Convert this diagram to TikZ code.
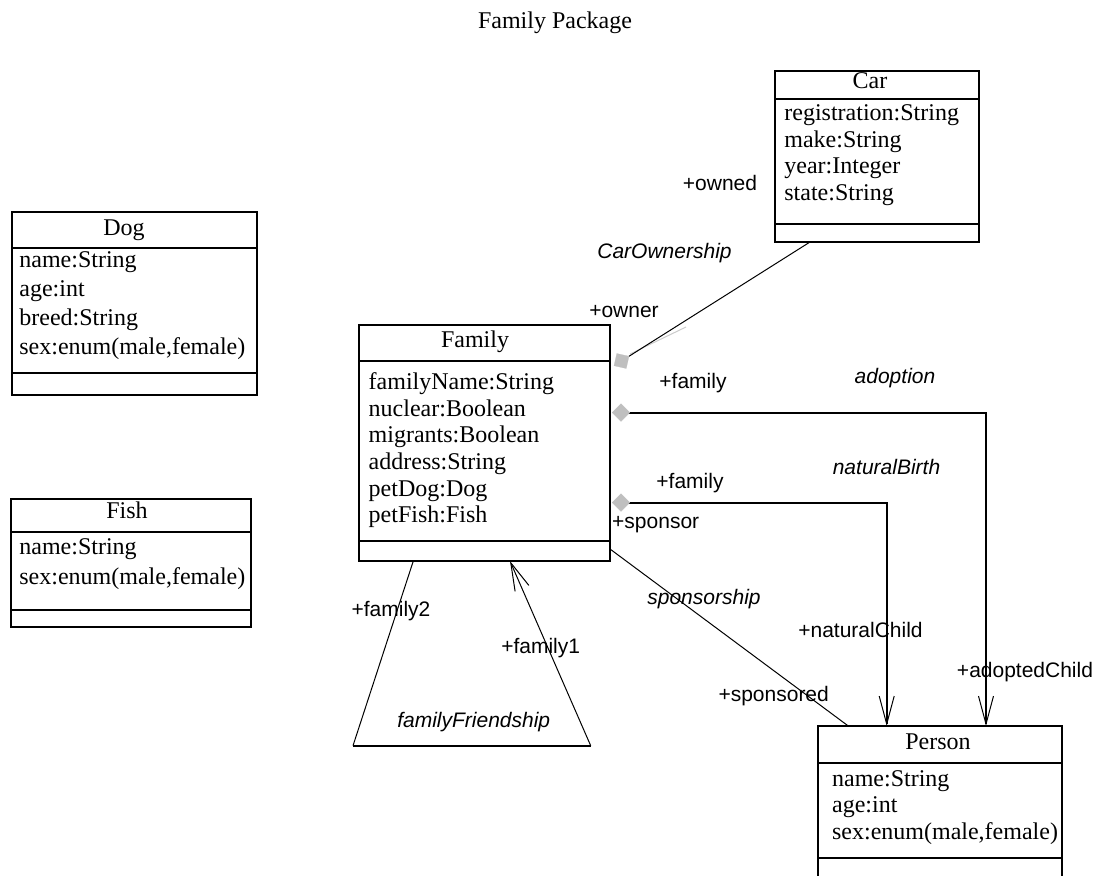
\documentclass[tikz,border=0pt]{standalone}
\usepackage{fontspec}
\setmainfont{Liberation Serif}
\setsansfont{Liberation Sans}
\usetikzlibrary{arrows.meta,calc}
\begin{document}
\begin{tikzpicture}[x=0.5pt,y=-0.5pt,
  classbox/.style={draw, line width=1pt, inner sep=0pt, outer sep=0pt, anchor=north west},
  divider/.style={line width=1pt},
  ctitle/.style={font=\fontsize{12}{14}\selectfont, inner sep=0pt, text height=8.2pt, text depth=2.6pt},
  attr/.style={font=\fontsize{12}{14}\selectfont, inner sep=0pt, anchor=west, text height=8.2pt, text depth=2.6pt},
  role/.style={font=\sffamily\fontsize{10.5}{12}\selectfont, inner sep=0pt},
  assoc/.style={font=\sffamily\itshape\fontsize{10.5}{12}\selectfont, inner sep=0pt},
  thinline/.style={line width=0.5pt},
  heavyline/.style={line width=1pt},
  diavee/.style={arrows={{Diamond[length=9pt,width=9pt,color=black!25,line width=0.1pt]}-{Straight Barb[length=14pt,width=7.5pt,line width=0.5pt]}}},
  diaonly/.style={arrows={{Diamond[length=9pt,width=9pt,color=black!25,line width=0.1pt]}-}},
  veeend/.style={arrows={-{Straight Barb[length=14pt,width=7.5pt,line width=0.5pt]}}}
]
\useasboundingbox (0,0) rectangle (1099,875);
\clip (0,0) rectangle (1099,875);
\fill[white] (0,0) rectangle (1099,875);

% title
\node[ctitle] (pkg) at (555,23) {Family Package};

% Car
\node[classbox, minimum width=102pt, minimum height=85.5pt] (car) at (775,71) {};
\draw[divider] ($(car.north west)+(0,28.3)$) -- ($(car.north east)+(0,28.3)$);
\draw[divider] ($(car.north west)+(0,153.3)$) -- ($(car.north east)+(0,153.3)$);
\node[ctitle] (car-t) at (870,82.5) {Car};
\foreach \t [count=\i] in {registration:String, make:String, year:Integer, state:String}
  \node[attr] (car-a\i) at (784,{115+26.67*(\i-1)}) {\t};

% Family
\node[classbox, minimum width=125.5pt, minimum height=118pt] (family) at (359,325) {};
\draw[divider] ($(family.north west)+(0,35.7)$) -- ($(family.north east)+(0,35.7)$);
\draw[divider] ($(family.north west)+(0,215.7)$) -- ($(family.north east)+(0,215.7)$);
\node[ctitle] (family-t) at (475,341.5) {Family};
\foreach \t [count=\i] in {familyName:String, nuclear:Boolean, migrants:Boolean, address:String, petDog:Dog, petFish:Fish}
  \node[attr] (family-a\i) at (368.3,{384+26.67*(\i-1)}) {\t};

% Dog
\node[classbox, minimum width=122.2pt, minimum height=91.5pt] (dog) at (12.3,212.3) {};
\draw[divider] ($(dog.north west)+(0,35.4)$) -- ($(dog.north east)+(0,35.4)$);
\draw[divider] ($(dog.north west)+(0,161)$) -- ($(dog.north east)+(0,161)$);
\node[ctitle] (dog-t) at (124,230) {Dog};
\foreach \t [count=\i] in {name:String, age:int, breed:String, {sex:enum(male,female)}}
  \node[attr] (dog-a\i) at (19,{262+28.9*(\i-1)}) {\t};

% Fish
\node[classbox, minimum width=120pt, minimum height=63.7pt] (fish) at (10.7,499.3) {};
\draw[divider] ($(fish.north west)+(0,33)$) -- ($(fish.north east)+(0,33)$);
\draw[divider] ($(fish.north west)+(0,110.7)$) -- ($(fish.north east)+(0,110.7)$);
\node[ctitle] (fish-t) at (127,513) {Fish};
\foreach \t [count=\i] in {name:String, {sex:enum(male,female)}}
  \node[attr] (fish-a\i) at (19,{549+30*(\i-1)}) {\t};

% Person
\node[classbox, minimum width=121.85pt, minimum height=82pt] (person) at (818.3,726) {};
\draw[divider] ($(person.north west)+(0,37.3)$) -- ($(person.north east)+(0,37.3)$);
\draw[divider] ($(person.north west)+(0,132.3)$) -- ($(person.north east)+(0,132.3)$);
\node[ctitle] (person-t) at (938,743.5) {Person};
\foreach \t [count=\i] in {name:String, age:int, {sex:enum(male,female)}}
  \node[attr] (person-a\i) at (831.7,{781+26.3*(\i-1)}) {\t};

% connector end points
\coordinate (dCar) at (613.9,365.8);
\coordinate (dAdopt) at (612,412.5);
\coordinate (dBirth) at (612,502.5);
\coordinate (shA) at (630,354);
\coordinate (shB) at (686,327);
\coordinate (triL) at (353,745.7);
\coordinate (triR) at (590.7,745.7);

% CarOwnership
\draw[thinline, black!20] (shA) -- (shB);
\draw[thinline, diaonly] (dCar) -- ($(car.south west)+(35,0)$);
% adoption
\draw[heavyline, diavee] (dAdopt) -| ($(person.north west)+(167.7,0)$);
% naturalBirth
\draw[heavyline, diavee] (dBirth) -| ($(person.north west)+(68.4,0)$);
% sponsorship
\draw[thinline] ($(family.north east)+(0,224)$) -- ($(person.north west)+(30,0)$);
% familyFriendship
\draw[thinline] ($(family.south west)+(54.3,0)$) -- (triL);
\draw[heavyline] (triL) -- (triR);
\draw[thinline, veeend] (triR) -- ($(family.south west)+(151,0)$);

% labels
\node[role] (l-owned) at (720,183.3) {+owned};
\node[assoc] (l-carown) at (664.5,253) {CarOwnership};
\node[role] (l-owner) at (624,312) {+owner};
\node[role] (l-fam1) at (693,382.7) {+family};
\node[assoc] (l-adopt) at (895,378.3) {adoption};
\node[assoc] (l-birth) at (886.5,466.7) {naturalBirth};
\node[role] (l-fam2) at (690,483.3) {+family};
\node[role] (l-sponsor) at (655.7,525) {+sponsor};
\node[assoc] (l-sponship) at (704,599.3) {sponsorship};
\node[role] (l-natchild) at (860.5,630) {+naturalChild};
\node[role] (l-adchild) at (1025,671.7) {+adoptedChild};
\node[role] (l-sponsored) at (773.7,696) {+sponsored};
\node[role] (l-family2) at (391,610.7) {+family2};
\node[role] (l-family1) at (540.7,648.3) {+family1};
\node[assoc] (l-friend) at (473.7,721.7) {familyFriendship};
\end{tikzpicture}
\end{document}
